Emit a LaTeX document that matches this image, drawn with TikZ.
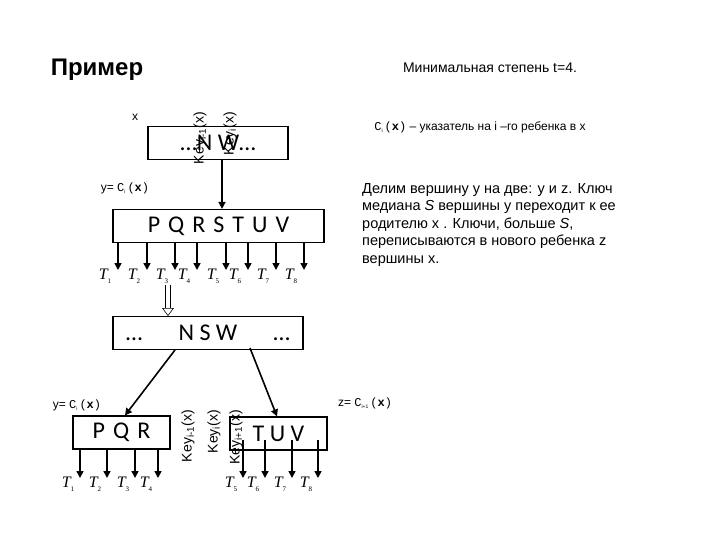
\documentclass[tikz,border=0pt]{standalone}
\usepackage{fontspec}
\setmainfont{Liberation Sans}
\newfontfamily\carfont{Carlito}
\newfontfamily\tms{Liberation Serif}
\setmonofont{Liberation Mono}
\usetikzlibrary{arrows.meta}
\newcommand{\Tn}[1]{{\tms\itshape T}\raisebox{-0.5ex}{\tms\scriptsize #1}}
\newcommand{\Ci}[1]{\texttt{C}\raisebox{-0.3ex}{\tiny #1}\,\texttt{(\textbf{x})}}
\begin{document}
\begin{tikzpicture}[x=1pt,y=-1pt,
  box/.style={draw,line width=1.2pt,minimum height=33pt,inner sep=0pt,font=\carfont\fontsize{24}{24}\selectfont},
  arr/.style={-{Triangle[length=7pt,width=7pt]},line width=1.6pt},
  lbl/.style={font=\fontsize{12}{12}\selectfont},
  key/.style={rotate=90,font=\fontsize{14}{14}\selectfont,inner sep=0pt,anchor=east},
  tl/.style={font=\fontsize{16}{16}\selectfont,inner sep=0pt}]
\useasboundingbox (0,0) rectangle (720,540);
\node[font=\bfseries\fontsize{24}{24}\selectfont] (title) at (97,70) {Пример};
\node[key] (k1) at (200,112) {Key\textsubscript{i-1}(x)};
\node[key] (k2) at (230,112) {Key\textsubscript{i}(x)};
\node[lbl] (xl) at (135,117) {x};
\node[box,minimum width=140pt] (top) at (218,143) {…N W…};
\node[lbl] (yl) at (125,188) {y= \Ci{i}};
\node[box,minimum width=211pt] (mid) at (218.5,226) {P\,\,Q\,\,R\,\,S\,\,T\,\,U\,\,V};
\coordinate (tb) at (222,160);
\draw[arr] (tb) -- (mid.north -| tb);
\foreach \x/\n in {118/1,147/2,175/3,197/4,226/5,248/6,276/7,304/8}{
  \coordinate (m\n) at (\x,242);
  \coordinate (e\n) at (\x,270);
  \draw[arr] (m\n) -- (e\n);
  \node[tl] (t\n) at (\x-13,276) {\Tn{\n}};
}
\coordinate (d1) at (168,285);
\coordinate (d2) at (168,316);
\draw[double,double distance=4pt,line width=0.6pt,-{Triangle[open,length=8pt,width=12pt]}] (d1) -- (d2);
\node[box,minimum width=190pt] (nsw) at (208,333) {…\quad\; N S W\; \quad…};
\node[box,minimum width=97pt] (pqr) at (121.5,432.5) {P\,\,Q\,\,R};
\node[box,minimum width=97pt] (tuv) at (278.5,433.5) {T U V};
\coordinate (a1) at (175,350);
\coordinate (a2) at (250,348);
\coordinate (b1) at (125,400);
\coordinate (b2) at (277,400);
\draw[arr] (a1) -- (pqr.north -| b1);
\draw[arr] (a2) -- (tuv.north -| b2);
\node[key] (k3) at (188,410) {Key\textsubscript{i-1}(x)};
\node[key] (k4) at (214,410) {Key\textsubscript{i}(x)};
\node[key] (k5) at (236,410) {Key\textsubscript{i+1}(x)};
\node[lbl] (yl2) at (77,405) {y= \Ci{i}};
\node[lbl] (zl) at (365,403) {z= \Ci{i+1}};
\foreach \x/\n in {80/1,107/2,135/3,158/4}{
  \coordinate (p\n) at (\x,450);
  \coordinate (pe\n) at (\x,478);
  \draw[arr] (p\n) -- (pe\n);
  \node[tl] (u\n) at (\x-12,484) {\Tn{\n}};
}
\foreach \x/\n in {243/5,265/6,292/7,318/8}{
  \coordinate (q\n) at (\x,440);
  \coordinate (qe\n) at (\x,478);
  \draw[arr] (q\n) -- (qe\n);
  \node[tl] (v\n) at (\x-12,484) {\Tn{\n}};
}
\node[font=\fontsize{14}{14}\selectfont] (deg) at (490,68) {Минимальная степень t=4.};
\node[font=\fontsize{12}{12}\selectfont] (ptr) at (480,127) {\texttt{C}\raisebox{-0.3ex}{\tiny i}\,\texttt{(\textbf{x})} – указатель на i –го ребенка в x};
\node[anchor=north west,align=left,inner sep=0pt,font=\fontsize{14.5}{17.5}\selectfont] (para) at (362,183)
 {Делим вершину y на две: y и z. Ключ\\медиана \textit{S} вершины y переходит к ее\\родителю x . Ключи, больше \textit{S},\\переписываются в нового ребенка z\\вершины x.};
\end{tikzpicture}
\end{document}
